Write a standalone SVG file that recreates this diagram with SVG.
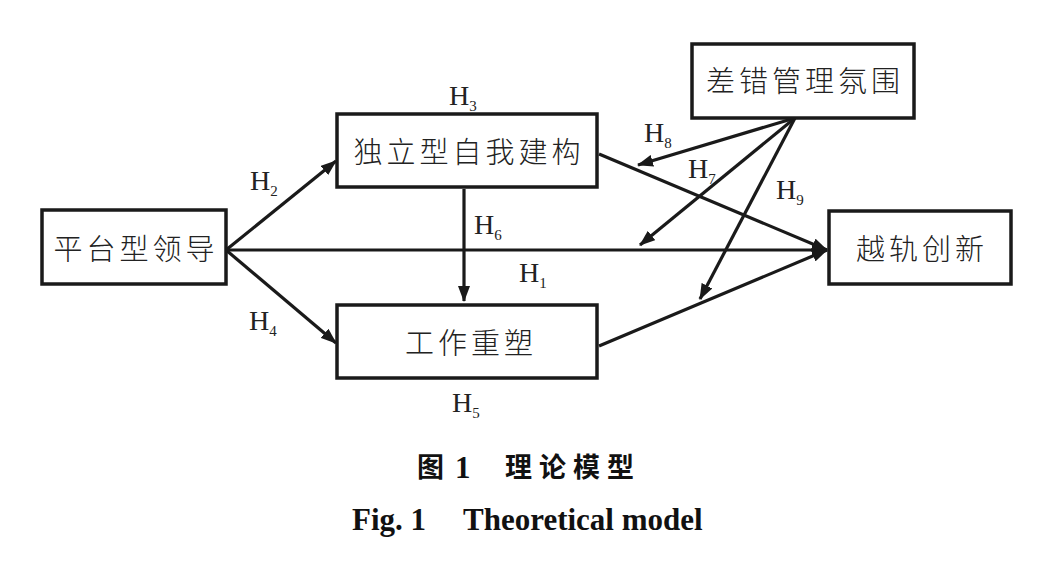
<svg xmlns="http://www.w3.org/2000/svg" width="1064" height="572" viewBox="0 0 1064 572">
<style>
.box{fill:#fff;stroke:#1a1a1a;stroke-width:3.5}
.cn{font-family:"Noto Sans CJK SC","Noto Sans CJK JP",sans-serif;font-size:29px;font-weight:300;fill:#222;letter-spacing:4px;text-anchor:middle}
.h{font-family:"Liberation Serif",serif;font-size:28px;fill:#222}
.s{font-size:15px}
.ln{stroke:#1a1a1a;stroke-width:3.2;fill:none}
.cap{font-family:"Noto Sans CJK SC",sans-serif;font-size:27px;font-weight:bold;fill:#111}
.capen{font-family:"Liberation Serif",serif;font-size:31px;font-weight:bold;fill:#111}
</style>
<defs>
<marker id="arr" markerUnits="userSpaceOnUse" markerWidth="16" markerHeight="12" refX="15" refY="6" orient="auto">
<path d="M0,0 L16,6 L0,12 z" fill="#1a1a1a"/>
</marker>
</defs>
<rect width="1064" height="572" fill="#fff"/>
<g id="connectors">
<line class="ln" x1="226" y1="250" x2="336" y2="161" marker-end="url(#arr)"/>
<line class="ln" x1="226" y1="250" x2="336" y2="343" marker-end="url(#arr)"/>
<line class="ln" x1="226" y1="250" x2="827" y2="250" marker-end="url(#arr)"/>
<line class="ln" x1="464" y1="189" x2="464" y2="301" marker-end="url(#arr)"/>
<line class="ln" x1="599" y1="154" x2="827" y2="250" marker-end="url(#arr)"/>
<line class="ln" x1="599" y1="346" x2="827" y2="250" marker-end="url(#arr)"/>
<line class="ln" x1="795" y1="118" x2="638" y2="165" marker-end="url(#arr)"/>
<line class="ln" x1="795" y1="118" x2="640" y2="245" marker-end="url(#arr)"/>
<line class="ln" x1="795" y1="118" x2="700" y2="299" marker-end="url(#arr)"/>
</g>
<g id="labels">
<text class="h" x="250" y="190">H<tspan class="s" dy="6">2</tspan></text>
<text class="h" x="449" y="105">H<tspan class="s" dy="6">3</tspan></text>
<text class="h" x="249" y="330">H<tspan class="s" dy="6">4</tspan></text>
<text class="h" x="452" y="412">H<tspan class="s" dy="6">5</tspan></text>
<text class="h" x="474" y="234">H<tspan class="s" dy="6">6</tspan></text>
<text class="h" x="519" y="282">H<tspan class="s" dy="6">1</tspan></text>
<text class="h" x="644" y="142">H<tspan class="s" dy="6">8</tspan></text>
<text class="h" x="688" y="178">H<tspan class="s" dy="6">7</tspan></text>
<text class="h" x="776" y="199">H<tspan class="s" dy="6">9</tspan></text>
</g>
<g id="n-platform">
<rect class="box" x="42" y="210" width="184" height="74"/>
<text class="cn" x="136" y="260">平台型领导</text>
</g>
<g id="n-independent">
<rect class="box" x="337" y="114" width="260" height="73"/>
<text class="cn" x="469" y="163">独立型自我建构</text>
</g>
<g id="n-crafting">
<rect class="box" x="337" y="305" width="260" height="73"/>
<text class="cn" x="471" y="354">工作重塑</text>
</g>
<g id="n-climate">
<rect class="box" x="692" y="44" width="222" height="74"/>
<text class="cn" x="805" y="92">差错管理氛围</text>
</g>
<g id="n-innovation">
<rect class="box" x="829" y="211" width="182" height="73"/>
<text class="cn" x="922" y="260">越轨创新</text>
</g>
<g id="caption">
<text class="cap" x="417" y="477">图</text>
<text class="capen" x="455" y="478">1</text>
<text class="cap" x="505" y="477" letter-spacing="7">理论模型</text>
<text class="capen" x="352" y="530">Fig. 1</text>
<text class="capen" x="463" y="530">Theoretical model</text>
</g>
</svg>
